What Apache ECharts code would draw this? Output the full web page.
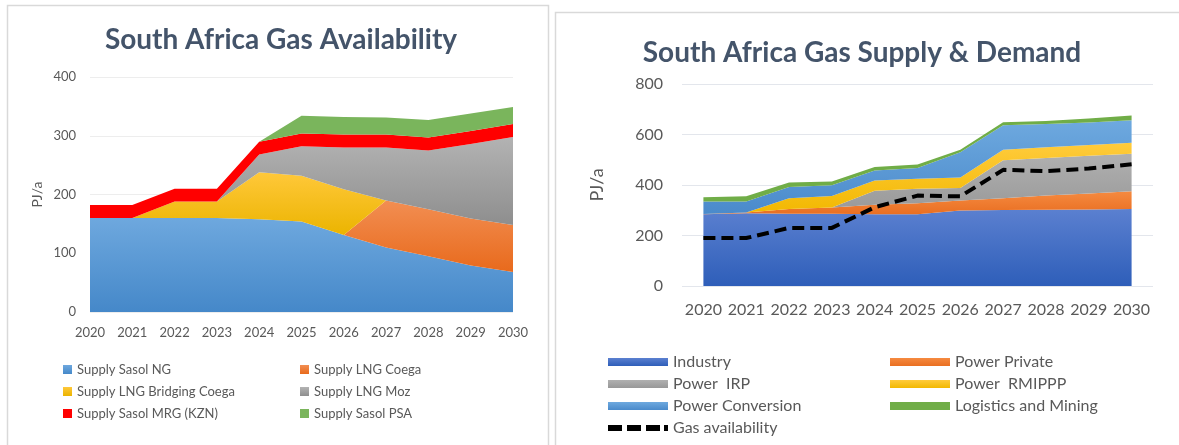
<!DOCTYPE html>
<html>
<head>
<meta charset="utf-8">
<script src="https://cdn.jsdelivr.net/npm/echarts@6/dist/echarts.min.js"></script>
<style>
  html, body { margin: 0; padding: 0; background: #fff; }
  #chart { width: 1179px; height: 445px; }
</style>
</head>
<body>
<div id="chart"></div>
<script>
// years shared by both panels
const years = ['2020', '2021', '2022', '2023', '2024', '2025', '2026', '2027', '2028', '2029', '2030']

// left panel: gas availability (PJ/a), stacked bottom -> top
const sasolNG      = [160, 160, 160, 160, 158, 154, 131, 110, 95, 79, 68]
const lngCoega     = [0, 0, 0, 0, 0, 0, 0, 80, 80, 80, 80]
const lngBridging  = [0, 0, 28, 28, 80, 78, 78, 0, 0, 0, 0]
const lngMoz       = [0, 0, 0, 0, 30, 50, 71, 90, 100, 127, 150]
const sasolMRG     = [22, 22, 22, 22, 22, 22, 22, 22, 22, 22, 22]
const sasolPSA     = [0, 0, 0, 0, 0, 30, 30, 29, 30, 30, 29]

// right panel: supply & demand (PJ/a), stacked bottom -> top
const industry     = [284, 288, 286, 286, 284, 284, 299, 301, 302, 303, 305]
const powerPrivate = [1, 3, 19, 25, 38, 44, 40, 47, 56, 63, 70]
const powerIRP     = [0, 0, 0, 0, 55, 57, 49, 150, 149, 150, 149]
const powerRMIPPP  = [0, 0, 43, 45, 41, 40, 42, 42, 43, 42, 43]
const powerConv    = [50, 44, 44, 43, 39, 42, 100, 97, 92, 90, 89]
const logistics    = [16, 20, 18, 15, 14, 14, 10, 12, 11, 15, 19]
const gasAvail     = [190, 190, 230, 230, 312, 358, 355, 460, 455, 465, 482]

const leftTicks = [0, 100, 200, 300, 400]
const rightTicks = [0, 200, 400, 600, 800]

const txt = '#595959'
const font = 'Lato, "Open Sans", sans-serif'

// vertical gradient, lighter on top like the office chart fills
function grad(top, bottom) {
  return new echarts.graphic.LinearGradient(0, 0, 0, 1, [
    { offset: 0, color: top },
    { offset: 1, color: bottom }
  ])
}

function area(name, data, stack, color, xi) {
  return {
    name, type: 'line', stack, data,
    xAxisIndex: xi, yAxisIndex: xi,
    symbol: 'none',
    lineStyle: { width: 0 },
    itemStyle: { color },
    areaStyle: { color, opacity: 1 }
  }
}

// legend icon for the dashed line: three dashes and a short end piece
const dashIcon = 'path://M0,0h14v6h-14z M19,0h14v6h-14z M38,0h14v6h-14z M56,0h4v6h-4z'

const chart = echarts.init(document.getElementById('chart'), null, { renderer: 'canvas' })

chart.setOption({
  animation: false,
  textStyle: { fontFamily: font },
  // panel frames
  graphic: [
    { type: 'rect', shape: { x: 7.5, y: 5.5, width: 541, height: 470 }, style: { fill: 'none', stroke: '#D9D9D9', lineWidth: 1.5 } },
    { type: 'rect', shape: { x: 555.5, y: 12.5, width: 640, height: 470 }, style: { fill: 'none', stroke: '#D9D9D9', lineWidth: 1.5 } }
  ],
  title: [
    { text: 'South Africa Gas Availability', left: 276, top: 21, textAlign: 'center',
      textStyle: { fontFamily: font, fontSize: 28, fontWeight: 'bold', color: '#44546A' } },
    { text: 'South Africa Gas Supply & Demand', left: 857, top: 34, textAlign: 'center',
      textStyle: { fontFamily: font, fontSize: 28, fontWeight: 'bold', color: '#44546A' } }
  ],
  legend: [
    { orient: 'vertical', left: 58, top: 358, icon: 'rect', itemWidth: 9, itemHeight: 9, itemGap: 9,
      textStyle: { color: txt, fontSize: 13, fontFamily: font },
      data: ['Supply Sasol NG', 'Supply LNG Bridging Coega', 'Supply Sasol MRG (KZN)'] },
    { orient: 'vertical', left: 295, top: 358, icon: 'rect', itemWidth: 9, itemHeight: 9, itemGap: 9,
      textStyle: { color: txt, fontSize: 13, fontFamily: font },
      data: ['Supply LNG Coega', 'Supply LNG Moz', 'Supply Sasol PSA'] },
    { orient: 'vertical', left: 603, top: 349, itemWidth: 60, itemHeight: 8, itemGap: 6,
      textStyle: { color: txt, fontSize: 16, fontFamily: font },
      data: [{ name: 'Industry', icon: 'rect' }, { name: 'Power  IRP', icon: 'rect' },
             { name: 'Power Conversion', icon: 'rect' }, { name: 'Gas availability', icon: dashIcon }] },
    { orient: 'vertical', left: 885, top: 349, icon: 'rect', itemWidth: 60, itemHeight: 8, itemGap: 6,
      textStyle: { color: txt, fontSize: 16, fontFamily: font },
      data: ['Power Private', 'Power  RMIPPP', 'Logistics and Mining'] }
  ],
  grid: [
    { left: 90, top: 77, width: 423, height: 235 },
    { left: 682, top: 84, width: 471, height: 202 }
  ],
  xAxis: [
    { type: 'category', gridIndex: 0, data: years, boundaryGap: false,
      axisLine: { show: false }, axisTick: { show: false },
      axisLabel: { color: txt, fontSize: 13, margin: 14, interval: 0 } },
    { type: 'category', gridIndex: 1, data: years, boundaryGap: true,
      axisLine: { show: false }, axisTick: { show: false },
      axisLabel: { color: txt, fontSize: 16, margin: 16, interval: 0 } }
  ],
  yAxis: [
    { type: 'value', gridIndex: 0, min: leftTicks[0], max: leftTicks[leftTicks.length - 1], interval: 100,
      name: 'PJ/a', nameLocation: 'middle', nameGap: 46,
      nameTextStyle: { color: txt, fontSize: 14, fontFamily: font },
      axisLabel: { color: txt, fontSize: 13, margin: 14 },
      splitLine: { lineStyle: { color: '#EDEDED' } } },
    { type: 'value', gridIndex: 1, min: rightTicks[0], max: rightTicks[rightTicks.length - 1], interval: 200,
      name: 'PJ/a', nameLocation: 'middle', nameGap: 76,
      nameTextStyle: { color: txt, fontSize: 18, fontFamily: font },
      axisLabel: { color: txt, fontSize: 16, margin: 19 },
      splitLine: { lineStyle: { color: '#E3E6EC' } } }
  ],
  series: [
    area('Supply Sasol NG', sasolNG, 'l', grad('#6EA8DE', '#4588C9'), 0),
    area('Supply LNG Coega', lngCoega, 'l', grad('#F28E52', '#E86A1C'), 0),
    area('Supply LNG Bridging Coega', lngBridging, 'l', grad('#FFC83A', '#EBB400'), 0),
    area('Supply LNG Moz', lngMoz, 'l', grad('#B3B3B3', '#8E8E8E'), 0),
    area('Supply Sasol MRG (KZN)', sasolMRG, 'l', '#FF0000', 0),
    area('Supply Sasol PSA', sasolPSA, 'l', '#7AB55C', 0),

    area('Industry', industry, 'r', grad('#5B80D0', '#2E5EB9'), 1),
    area('Power Private', powerPrivate, 'r', grad('#F58A40', '#E96F22'), 1),
    area('Power  IRP', powerIRP, 'r', grad('#B0B0B0', '#989898'), 1),
    area('Power  RMIPPP', powerRMIPPP, 'r', grad('#FFCB3C', '#F2B800'), 1),
    area('Power Conversion', powerConv, 'r', grad('#6EA9DF', '#4A8ACB'), 1),
    area('Logistics and Mining', logistics, 'r', '#70AD47', 1),
    {
      name: 'Gas availability', type: 'line', data: gasAvail,
      xAxisIndex: 1, yAxisIndex: 1, symbol: 'none', z: 5,
      itemStyle: { color: '#000' },
      lineStyle: { color: '#000', width: 4, type: [12, 6] }
    }
  ]
})
</script>
</body>
</html>
